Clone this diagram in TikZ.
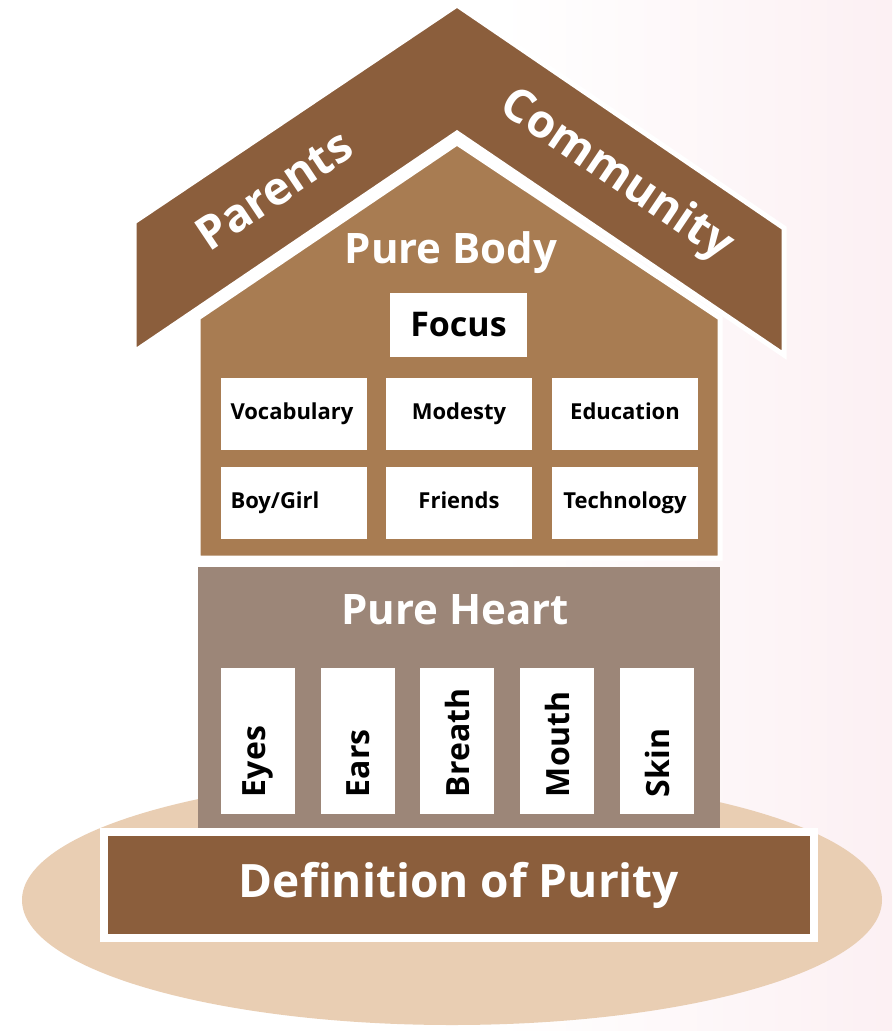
\documentclass[tikz,border=0pt]{standalone}
\usepackage{fontspec}
\setmainfont{Open Sans}
\usetikzlibrary{positioning}
\definecolor{roofbrown}{HTML}{8B5E3C}
\definecolor{bodybrown}{HTML}{A87C52}
\definecolor{heartgrey}{HTML}{9C8678}
\definecolor{basesand}{HTML}{E9CEB3}
\definecolor{bgpink}{HTML}{FCF0F3}

\begin{document}
\begin{tikzpicture}[
		x=1pt, y=-1pt,
		cell/.style={
			fill=white,
			minimum width=146,
			minimum height=72,
			inner sep=0,
			text height=16,
			text depth=5,
			font=\fontsize{22}{26}\selectfont\bfseries
		},
		leftcell/.style={
			cell,
			text width=126,
			inner xsep=10,
			align=left
		},
		slot/.style={
			fill=white,
			rotate=90,
			minimum height=74,
			text width=112,
			inner xsep=17,
			inner ysep=0,
			align=left,
			font=\fontsize{32}{36}\selectfont\bfseries
		},
		title/.style={
			text=white,
			font=\fontsize{42}{48}\selectfont\bfseries
		},
		rooflabel/.style={
			text=white,
			font=\fontsize{46}{52}\selectfont\bfseries
		}
		]
		
		% Fundo
		\useasboundingbox (0,0) rectangle (892,1031);
		\fill[white] (0,0) rectangle (500,1031);
		\fill[left color=white, right color=bgpink] (500,0) rectangle (892,1031);
		
		% Base oval
		\fill[basesand] (452,900) ellipse [x radius=430, y radius=125];
		
		% Telhado
		\fill[roofbrown, draw=white, line width=5]
			(134,222) -- (457,5) -- (784,228) -- (784,355) -- (457,133) -- (134,352) -- cycle;
		\node[rooflabel, rotate=33.8] (parents) at (274,190) {Parents};
		\node[rooflabel, rotate=-34] (community) at (616,176) {Community};
		
		% Pure Body
		\fill[bodybrown, draw=white, line width=5]
			(198,558) -- (198,318) -- (457,143) -- (720,318) -- (720,558) -- cycle;
		\node[title] (body) at (451,253) {Pure Body};
		\node[cell, minimum width=137, minimum height=64, text height=25, text depth=2,
			font=\fontsize{34}{40}\selectfont\bfseries] (focus) at (458.5,325) {Focus};
		
		\node[leftcell] (vocab) at (293.5,414) {Vocabulary};
		\node[cell] (modesty) at (459,414) {Modesty};
		\node[cell] (educ) at (625,414) {Education};
		\node[leftcell] (boygirl) at (293.5,503) {Boy/Girl};
		\node[cell] (friends) at (459,503) {Friends};
		\node[cell] (tech) at (625,503) {Technology};
		
		% Pure Heart
		\node[fill=heartgrey, minimum width=522, minimum height=261, inner sep=0] (heart) at (459,697.5) {};
		\node[title] (heartlabel) at (455,610) {Pure Heart};
		
		\node[slot] (eyes) at (258,741) {Eyes};
		\node[slot] (ears) at (358,741) {Ears};
		\node[slot] (breath) at (457,741) {Breath};
		\node[slot] (mouth) at (557,741) {Mouth};
		\node[slot] (skin) at (657,741) {Skin};
		
		% Definition of Purity
		\node[fill=roofbrown, draw=white, line width=8, minimum width=710, minimum height=106, inner sep=0,
			text=white, font=\fontsize{46}{52}\selectfont\bfseries] (purity) at (459,885) {Definition of Purity};
		
	\end{tikzpicture}
\end{document}
